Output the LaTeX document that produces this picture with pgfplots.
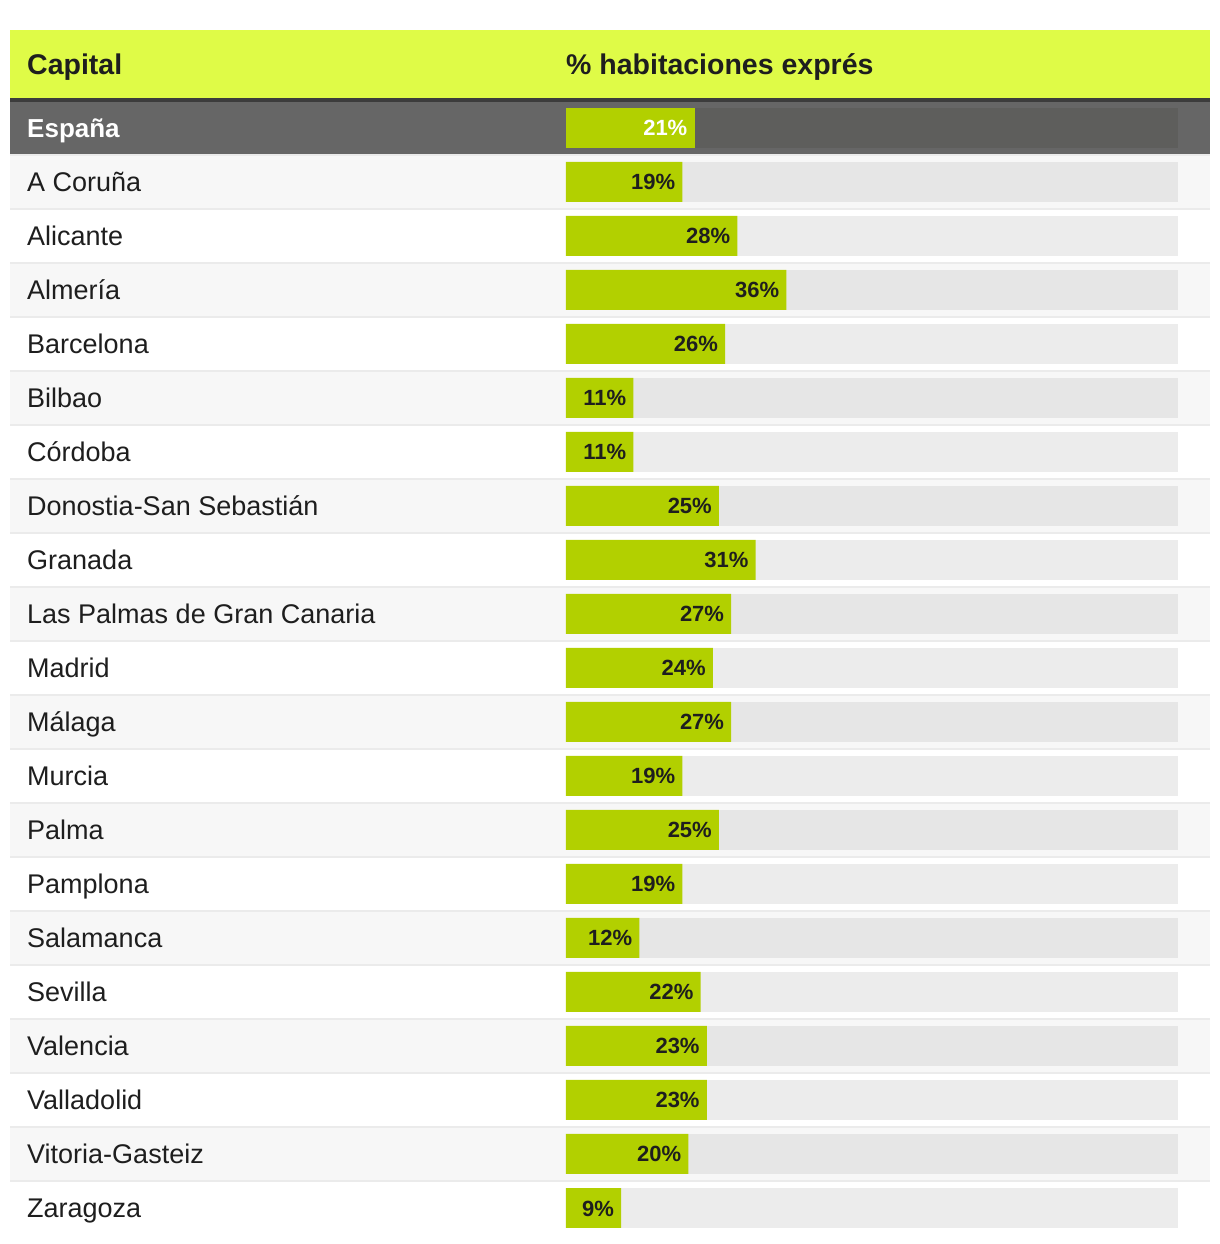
\documentclass[border=0pt]{standalone}
\usepackage{pgfplots}
\pgfplotsset{compat=1.18}
\usepackage{fontspec}
\setmainfont{Liberation Sans}
\definecolor{hdr}{HTML}{DFFB47}
\definecolor{hdrline}{HTML}{3C3C3C}
\definecolor{esp}{HTML}{666666}
\definecolor{esptrack}{HTML}{5E5E5C}
\definecolor{rowodd}{HTML}{F7F7F7}
\definecolor{sep}{HTML}{EBEBEB}
\definecolor{trackodd}{HTML}{E6E6E6}
\definecolor{trackeven}{HTML}{ECECEC}
\definecolor{barc}{HTML}{B2D000}
\definecolor{txt}{HTML}{1E1E1E}
\tikzset{rowlab/.style={anchor=base west, inner sep=0pt, yshift=-10pt, text=txt, font=\fontsize{27}{32}\selectfont}}
\begin{document}
\begin{tikzpicture}
\begin{axis}[
  scale only axis, width=1220pt, height=1244pt,
  xmin=-92.4837, xmax=106.8627, ymin=-2.37037, ymax=20.66667,
  y dir=reverse, hide axis, clip=false, set layers,
]
\begin{pgfonlayer}{axis background}
  \fill[white] (axis cs:-92.4837,-2.37037) rectangle (axis cs:106.8627,20.66667);
  \fill[hdr] (axis cs:-90.8497,-1.8148) rectangle (axis cs:105.2288,-0.5556);
  \fill[hdrline] (axis cs:-90.8497,-0.5556) rectangle (axis cs:105.2288,-0.4815);
  \fill[esp] (axis cs:-90.8497,-0.4815) rectangle (axis cs:105.2288,0.4815);
  \fill[esptrack] (axis cs:0,-0.3704) rectangle (axis cs:100,0.3704);
  \pgfplotsinvokeforeach{1,3,...,19}{
    \fill[rowodd] (axis cs:-90.8497,#1-0.4815) rectangle (axis cs:105.2288,#1+0.4815);
    \fill[trackodd] (axis cs:0,#1-0.3704) rectangle (axis cs:100,#1+0.3704);
  }
  \pgfplotsinvokeforeach{2,4,...,20}{
    \fill[trackeven] (axis cs:0,#1-0.3704) rectangle (axis cs:100,#1+0.3704);
  }
  \pgfplotsinvokeforeach{0,...,19}{
    \fill[sep] (axis cs:-90.8497,#1+0.4815) rectangle (axis cs:105.2288,#1+0.5185);
  }
\end{pgfonlayer}
% España
\addplot[xbar, bar shift=0pt, bar width=0.7407, fill=barc, draw=none, point meta=x,
  nodes near coords={\pgfmathprintnumber[assume math mode=true]{\pgfplotspointmeta}\%},
  nodes near coords align={anchor=base east},
  every node near coord/.append style={anchor=base east, font=\fontsize{22}{26}\selectfont\bfseries, text=white, inner sep=0pt, xshift=-7pt, yshift=-8pt}]
  coordinates {(21,0)};
% Capitals
\addplot[xbar, bar shift=0pt, bar width=0.7407, fill=barc, draw=none, point meta=x,
  nodes near coords={\pgfmathprintnumber[assume math mode=true]{\pgfplotspointmeta}\%},
  nodes near coords align={anchor=base east},
  every node near coord/.append style={anchor=base east, font=\fontsize{22}{26}\selectfont\bfseries, text=txt, inner sep=0pt, xshift=-7pt, yshift=-8pt}]
  coordinates {(19,1) (28,2) (36,3) (26,4) (11,5) (11,6) (25,7) (31,8) (27,9) (24,10)
               (27,11) (19,12) (25,13) (19,14) (12,15) (22,16) (23,17) (23,18) (20,19) (9,20)};
% header
\node[anchor=base west, inner sep=0pt, text=txt, font=\fontsize{28.5}{34}\selectfont\bfseries] at (axis cs:-88.07,-0.9815) {Capital};
\node[anchor=base west, inner sep=0pt, text=txt, font=\fontsize{28.5}{34}\selectfont\bfseries] at (axis cs:0,-0.9815) {\% habitaciones exprés};
\node[anchor=base west, inner sep=0pt, yshift=-10pt, text=white, font=\fontsize{26}{32}\selectfont\bfseries] at (axis cs:-88.07,0) {España};
\node[rowlab] at (axis cs:-88.07,1) {A Coruña};
\node[rowlab] at (axis cs:-88.07,2) {Alicante};
\node[rowlab] at (axis cs:-88.07,3) {Almería};
\node[rowlab] at (axis cs:-88.07,4) {Barcelona};
\node[rowlab] at (axis cs:-88.07,5) {Bilbao};
\node[rowlab] at (axis cs:-88.07,6) {Córdoba};
\node[rowlab] at (axis cs:-88.07,7) {Donostia-San Sebastián};
\node[rowlab] at (axis cs:-88.07,8) {Granada};
\node[rowlab] at (axis cs:-88.07,9) {Las Palmas de Gran Canaria};
\node[rowlab] at (axis cs:-88.07,10) {Madrid};
\node[rowlab] at (axis cs:-88.07,11) {Málaga};
\node[rowlab] at (axis cs:-88.07,12) {Murcia};
\node[rowlab] at (axis cs:-88.07,13) {Palma};
\node[rowlab] at (axis cs:-88.07,14) {Pamplona};
\node[rowlab] at (axis cs:-88.07,15) {Salamanca};
\node[rowlab] at (axis cs:-88.07,16) {Sevilla};
\node[rowlab] at (axis cs:-88.07,17) {Valencia};
\node[rowlab] at (axis cs:-88.07,18) {Valladolid};
\node[rowlab] at (axis cs:-88.07,19) {Vitoria-Gasteiz};
\node[rowlab] at (axis cs:-88.07,20) {Zaragoza};
\end{axis}
\end{tikzpicture}
\end{document}
